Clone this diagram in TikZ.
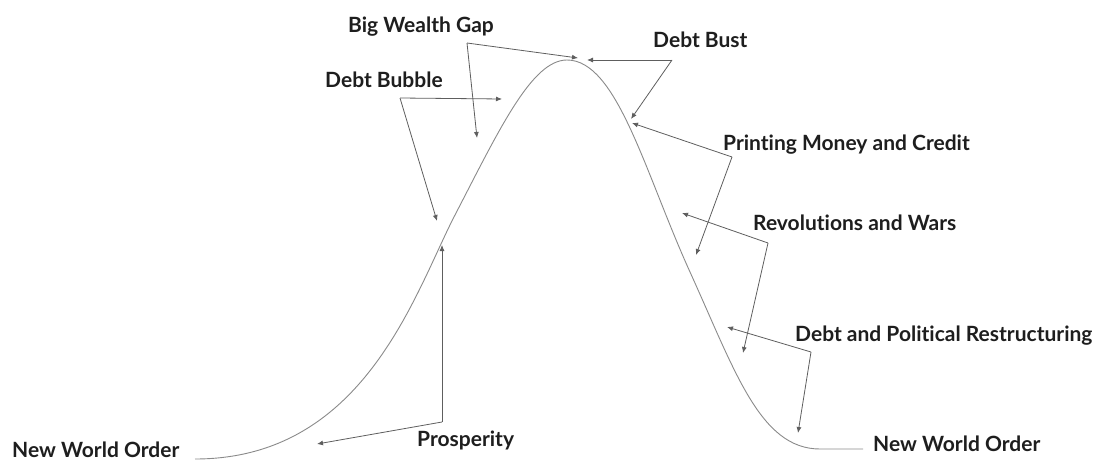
\documentclass[tikz,border=0pt]{standalone}
\usepackage{fontspec}
\setmainfont{Lato}[BoldFont={Lato Bold},Ligatures={NoCommon}]
\usetikzlibrary{arrows.meta}
\definecolor{linegray}{HTML}{5E5E5E}
\definecolor{curvegray}{HTML}{8A8A8A}
\definecolor{txt}{HTML}{1E1E1E}
\begin{document}
\begin{tikzpicture}[x=1pt,y=-1pt,
  lbl/.style={inner sep=0pt,anchor=base west,font=\fontsize{21}{24}\selectfont\bfseries,text=txt},
  pointer/.style={draw=linegray,line width=0.8pt,-{Latex[length=6pt,width=5pt]}},
  cycle/.style={draw=curvegray,line width=0.9pt}]
\useasboundingbox (0,0) rectangle (1102,460);
% curve
\coordinate (c0) at (195,459);
\coordinate (c1) at (455,215);
\coordinate (c2) at (567,60);
\coordinate (c3) at (690,272);
\coordinate (c4) at (820,449);
\coordinate (c5) at (863,449);
\draw[cycle] (c0) .. controls (365,459) and (415,292) .. (c1)
  .. controls (500,128) and (532,60) .. (c2)
  .. controls (617,60) and (645,173) .. (c3)
  .. controls (735,371) and (760,449) .. (c4) -- (c5);
% labels
\node[lbl] (nwoL) at (12,457) {New World Order};
\node[lbl] (pros) at (417,446) {Prosperity};
\node[lbl] (bubble) at (325,87) {Debt Bubble};
\node[lbl] (gap) at (348,33) {Big Wealth Gap};
\node[lbl] (bust) at (653,48) {Debt Bust};
\node[lbl] (print) at (723,150) {Printing Money and Credit};
\node[lbl] (rev) at (753,230) {Revolutions and Wars};
\node[lbl] (restr) at (795,341) {Debt and Political Restructuring};
\node[lbl] (nwoR) at (873,451) {New World Order};
% corners and tips
\coordinate (cPros) at (442,422);
\coordinate (tProsA) at (317,444);
\coordinate (tProsB) at (442,245);
\coordinate (cBub) at (400,98);
\coordinate (tBubA) at (502,99);
\coordinate (tBubB) at (437,221);
\coordinate (cGap) at (467,43);
\coordinate (tGapA) at (578,58);
\coordinate (tGapB) at (477,138);
\coordinate (cBust) at (672,60);
\coordinate (tBustA) at (587,60);
\coordinate (tBustB) at (631,119);
\coordinate (cPrint) at (732,157);
\coordinate (tPrintA) at (632,123);
\coordinate (tPrintB) at (696,255);
\coordinate (cRev) at (768,243);
\coordinate (tRevA) at (682,213);
\coordinate (tRevB) at (743,353);
\coordinate (cRes) at (811,352);
\coordinate (tResA) at (727,327);
\coordinate (tResB) at (798,433);
% pointers
\draw[pointer] (cPros) -- (tProsA);
\draw[pointer] (cPros) -- (tProsB);
\draw[pointer] (cBub) -- (tBubA);
\draw[pointer] (cBub) -- (tBubB);
\draw[pointer] (cGap) -- (tGapA);
\draw[pointer] (cGap) -- (tGapB);
\draw[pointer] (cBust) -- (tBustA);
\draw[pointer] (cBust) -- (tBustB);
\draw[pointer] (cPrint) -- (tPrintA);
\draw[pointer] (cPrint) -- (tPrintB);
\draw[pointer] (cRev) -- (tRevA);
\draw[pointer] (cRev) -- (tRevB);
\draw[pointer] (cRes) -- (tResA);
\draw[pointer] (cRes) -- (tResB);
\end{tikzpicture}
\end{document}
